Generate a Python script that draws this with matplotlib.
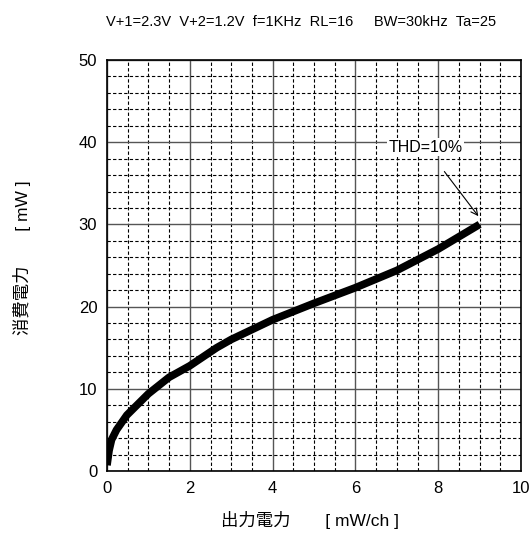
import matplotlib
matplotlib.use('Agg')
import matplotlib.pyplot as plt
from matplotlib.ticker import MultipleLocator

plt.rcParams['font.family'] = ['Liberation Sans Narrow', 'Liberation Sans', 'Noto Sans CJK JP', 'DejaVu Sans']

# output power [mW/ch] vs power dissipation [mW]
pout = [0.0, 0.05, 0.11, 0.23, 0.48, 1.0, 1.5, 2.0, 2.65, 3.0, 4.0, 5.0, 6.0, 7.0, 8.0, 9.0]
pdiss = [0.7, 2.5, 3.8, 5.0, 6.8, 9.4, 11.4, 12.8, 15.0, 16.0, 18.4, 20.4, 22.3, 24.4, 27.0, 30.0]

title = 'V+1=2.3V  V+2=1.2V  f=1KHz  RL=16     BW=30kHz  Ta=25'
xlabel = '出力電力　　[ mW/ch ]'
ylabel = '消費電力　　[ mW ]'

fig = plt.figure(figsize=(5.31, 5.42), dpi=100)
ax = fig.add_axes([107/531, 1-471/542, 414/531, 411/542])

ax.set_xlim(0, 10)
ax.set_ylim(0, 50)
ax.xaxis.set_major_locator(MultipleLocator(2))
ax.xaxis.set_minor_locator(MultipleLocator(0.5))
ax.yaxis.set_major_locator(MultipleLocator(10))
ax.yaxis.set_minor_locator(MultipleLocator(2))
ax.grid(which='major', color='#555555', linestyle='-', linewidth=1.0)
ax.grid(which='minor', color='black', linestyle=(0, (3, 2)), linewidth=0.8)
ax.set_axisbelow(True)
ax.tick_params(which='both', length=0, labelsize=12, pad=7)
for s in ax.spines.values():
    s.set_linewidth(1.2)

ax.plot(pout, pdiss, color='black', linewidth=5.5, solid_capstyle='butt', zorder=3)

ax.annotate('THD=10%', xy=(8.97, 31.0), xytext=(7.7, 39.4),
            ha='center', va='center', fontsize=11.5,
            bbox=dict(facecolor='white', edgecolor='none', pad=1),
            arrowprops=dict(arrowstyle='->', color='black', lw=0.8,
                            shrinkA=14, shrinkB=0, mutation_scale=12))

fig.text(301/531, 1-22/542, title, ha='center', va='center', fontsize=10.5)
fig.text(310/531, 1-520/542, xlabel, ha='center', va='center', fontsize=12.5)
fig.text(22/531, 1-258/542, ylabel, ha='center', va='center', fontsize=12.5, rotation=90)

fig.savefig('out.png', dpi=100)
